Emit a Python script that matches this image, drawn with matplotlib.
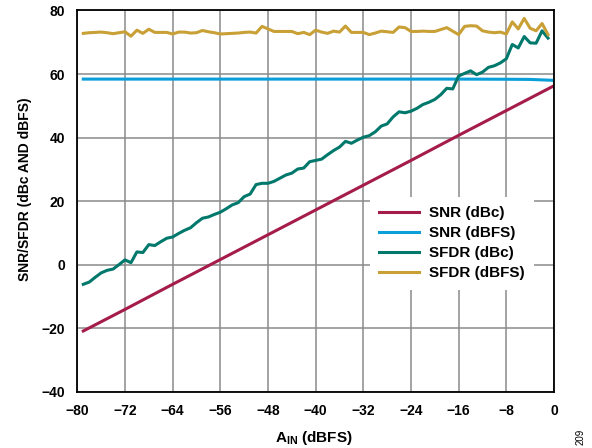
import matplotlib
matplotlib.use('Agg')
import matplotlib.pyplot as plt

plt.rcParams['font.family'] = ['Liberation Sans', 'DejaVu Sans']
plt.rcParams['font.weight'] = 'bold'
plt.rcParams['mathtext.fontset'] = 'custom'
plt.rcParams['mathtext.rm'] = 'Liberation Sans:bold'
plt.rcParams['mathtext.bf'] = 'Liberation Sans:bold'

# input amplitude (dBFS)
snr_x = [-79, -72, -64, -56, -48, -40, -32, -24, -16, -8, -4, 0]
snr_dbc = [-20.9, -14.1, -6.2, 1.6, 9.4, 17.2, 25.0, 32.8, 40.7, 48.5, 52.4, 56.3]
snr_dbfs = [58.4, 58.4, 58.4, 58.4, 58.4, 58.4, 58.4, 58.4, 58.4, 58.35, 58.3, 58.0]

sfdr_x = list(range(-79, 0))
sfdr_dbfs = [
    72.8, 73.0, 73.1, 73.2, 73.0, 72.7, 73.0, 73.3, 71.9, 73.8,
    72.8, 74.1, 73.1, 73.1, 73.1, 72.6, 73.2, 73.2, 72.9, 73.0,
    73.7, 73.3, 73.0, 72.6, 72.7, 72.8, 72.9, 73.1, 73.2, 72.9,
    75.0, 74.2, 73.4, 73.4, 73.4, 73.4, 72.7, 73.1, 72.4, 73.8,
    73.2, 72.8, 73.5, 73.2, 75.1, 73.1, 73.1, 73.1, 72.4, 72.9,
    73.5, 73.3, 73.1, 74.8, 74.6, 73.4, 73.4, 73.5, 73.4, 73.4,
    74.0, 74.6, 73.5, 72.4, 75.0, 75.2, 75.1, 73.6, 73.2, 73.0,
    73.2, 72.6, 76.4, 74.2, 77.5, 74.4, 73.6, 75.9, 72.4,
]
sfdr_dbc = [
    -6.2, -5.5, -4.0, -2.6, -1.8, -1.4, 0.0, 1.5, 0.6, 4.0,
    3.8, 6.3, 6.0, 7.2, 8.3, 8.7, 9.8, 10.8, 11.6, 13.2,
    14.6, 15.0, 15.8, 16.5, 17.6, 18.8, 19.5, 21.4, 22.2, 25.2,
    25.6, 25.6, 26.2, 27.2, 28.2, 28.8, 30.1, 30.4, 32.4, 32.8,
    33.2, 34.6, 35.9, 37.0, 38.8, 38.2, 39.2, 40.1, 40.6, 41.8,
    43.6, 44.3, 46.5, 48.1, 47.8, 48.3, 49.2, 50.4, 51.1, 52.0,
    53.5, 55.5, 55.3, 59.4, 60.2, 61.0, 59.8, 60.6, 62.1, 62.6,
    63.5, 64.8, 69.3, 68.2, 71.8, 69.8, 69.7, 73.6, 71.3,
]

x_ticks = list(range(-80, 1, 8))
y_ticks = list(range(-40, 81, 20))

fig = plt.figure(figsize=(5.92, 4.48), dpi=100)
ax = fig.add_axes([0.1306, 0.1257, 0.8052, 0.8509])

lw = 2.2
ax.plot(snr_x, snr_dbc, color='#A51C4A', lw=lw, label='SNR (dBc)')
ax.plot(snr_x, snr_dbfs, color='#0A9FD8', lw=lw, label='SNR (dBFS)')
ax.plot(sfdr_x, sfdr_dbc, color='#00786B', lw=lw, label='SFDR (dBc)')
ax.plot(sfdr_x, sfdr_dbfs, color='#C9A036', lw=lw, label='SFDR (dBFS)')

ax.set_xlim(-80, 0)
ax.set_ylim(-40, 80)
ax.set_xticks(x_ticks)
ax.set_yticks(y_ticks)
ax.grid(True, color='#8a8a8a', lw=1.1)
ax.set_axisbelow(True)
ax.tick_params(length=0, pad=9, labelsize=10)
for spine in ax.spines.values():
    spine.set_linewidth(1.3)
    spine.set_color('black')

ax.set_xlabel(r'A$_{\mathrm{IN}}$ (dBFS)', fontsize=11, fontweight='bold')
ax.set_ylabel('SNR/SFDR (dBc AND dBFS)', fontsize=10, fontweight='bold')
ax.xaxis.set_label_coords(0.497, -0.097)
ax.yaxis.set_label_coords(-0.096, 0.53)

leg = ax.legend(loc='upper left', bbox_to_anchor=(0.614, 0.511), borderaxespad=0,
                fontsize=11, frameon=True, fancybox=False, framealpha=1,
                edgecolor='none', facecolor='white', handlelength=2.6,
                handletextpad=0.65, labelspacing=0.4, borderpad=0.6)
for t in leg.get_texts():
    t.set_fontweight('bold')

fig.text(0.981, 0.025, '209', rotation=90, fontsize=7, fontweight='normal',
         ha='center', va='center')

fig.savefig('out.png', dpi=100)
